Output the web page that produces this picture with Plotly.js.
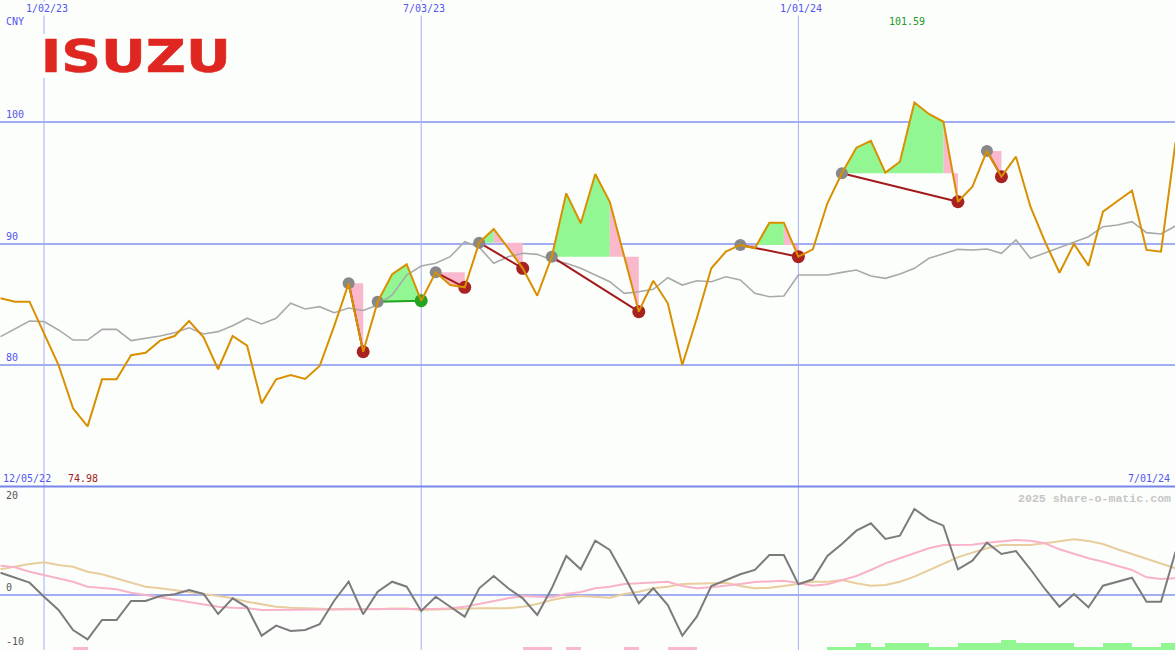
<!DOCTYPE html>
<html>
<head>
<meta charset="utf-8">
<script src="https://cdn.plot.ly/plotly-3.0.1.min.js"></script>
<style>
  html, body { margin: 0; padding: 0; background: #fcfefc; }
  #chart { width: 1175px; height: 650px; }
</style>
</head>
<body>
<div id="chart"></div>
<script>
// ---------- data ----------
const dates = [
  '2022-12-12','2022-12-19','2022-12-26','2023-01-02','2023-01-09','2023-01-16','2023-01-23','2023-01-30','2023-02-06','2023-02-13',
  '2023-02-20','2023-02-27','2023-03-06','2023-03-13','2023-03-20','2023-03-27','2023-04-03','2023-04-10','2023-04-17','2023-04-24',
  '2023-05-01','2023-05-08','2023-05-15','2023-05-22','2023-05-29','2023-06-05','2023-06-12','2023-06-19','2023-06-26','2023-07-03',
  '2023-07-10','2023-07-17','2023-07-24','2023-07-31','2023-08-07','2023-08-14','2023-08-21','2023-08-28','2023-09-04','2023-09-11',
  '2023-09-18','2023-09-25','2023-10-02','2023-10-09','2023-10-16','2023-10-23','2023-10-30','2023-11-06','2023-11-13','2023-11-20',
  '2023-11-27','2023-12-04','2023-12-11','2023-12-18','2023-12-25','2024-01-01','2024-01-08','2024-01-15','2024-01-22','2024-01-29',
  '2024-02-05','2024-02-12','2024-02-19','2024-02-26','2024-03-04','2024-03-11','2024-03-18','2024-03-25','2024-04-01','2024-04-08',
  '2024-04-15','2024-04-22','2024-04-29','2024-05-06','2024-05-13','2024-05-20','2024-05-27','2024-06-03','2024-06-10','2024-06-17',
  '2024-06-24','2024-07-01'
];

const price = [
  85.50, 85.22, 85.22, 82.57, 80.02, 76.46, 74.98, 78.85, 78.85, 80.82,
  81.03, 82.02, 82.40, 83.63, 82.30, 79.67, 82.40, 81.61, 76.87, 78.85,
  79.20, 78.87, 79.94, 83.22, 86.73, 81.11, 85.22, 87.47, 88.29, 85.30,
  87.63, 86.59, 86.40, 90.07, 91.19, 89.61, 87.96, 85.71, 88.92, 94.12,
  91.66, 95.71, 93.43, 88.92, 84.40, 86.94, 85.09, 80.02, 83.86, 87.96,
  89.33, 89.88, 89.61, 91.71, 91.71, 88.92, 89.52, 93.30, 95.77, 97.87,
  98.44, 95.82, 96.72, 101.59, 100.64, 100.00, 93.43, 94.67, 97.60, 95.49,
  97.13, 93.02, 90.15, 87.60, 89.96, 88.18, 92.61, 93.49, 94.34, 89.47,
  89.33, 98.31
];

const movingAvg = [
  82.35, 82.98, 83.63, 83.58, 82.90, 82.07, 82.07, 82.95, 82.95, 82.02,
  82.21, 82.40, 82.67, 83.08, 82.57, 82.76, 83.25, 83.86, 83.39, 83.86,
  85.09, 84.62, 84.81, 84.32, 84.70, 84.50, 84.95, 85.77, 87.41, 88.15,
  88.37, 88.92, 90.15, 89.69, 88.37, 88.92, 89.20, 89.11, 88.64, 88.37,
  87.96, 87.41, 86.86, 85.91, 86.04, 86.24, 87.19, 86.59, 86.94, 86.86,
  87.27, 87.00, 85.91, 85.63, 85.69, 87.41, 87.41, 87.41, 87.63, 87.82,
  87.33, 87.14, 87.50, 87.96, 88.78, 89.14, 89.52, 89.47, 89.55, 89.20,
  90.29, 88.78, 89.24, 89.69, 90.10, 90.56, 91.38, 91.52, 91.79, 90.89,
  90.78, 91.44
];

const oscillator = [
  4.83, 3.75, 2.67, -0.37, -3.25, -7.58, -9.60, -5.42, -5.42, -1.30,
  -1.30, -0.22, 0.15, 1.08, 0.22, -4.12, -0.72, -2.67, -8.82, -6.65,
  -7.80, -7.58, -6.35, -1.24, 2.88, -4.18, 0.72, 2.88, 1.80, -3.47,
  -0.37, -2.54, -4.70, 1.45, 4.12, 1.45, -0.72, -4.33, 1.45, 8.45,
  5.57, 11.77, 9.75, 4.12, -1.80, 1.45, -2.17, -8.82, -4.70, 1.95,
  3.25, 4.49, 5.42, 8.67, 8.67, 2.34, 3.40, 8.45, 11.05, 13.93,
  15.54, 12.13, 12.85, 18.63, 16.40, 15.02, 5.57, 7.43, 11.33, 8.88,
  9.53, 5.57, 1.30, -2.54, 0.22, -2.67, 2.02, 2.88, 3.75, -1.45,
  -1.45, 9.38
];

const oscFast = [
  6.35, 6.00, 5.05, 4.33, 3.62, 2.88, 1.80, 1.45, 1.24, 0.50,
  0.00, -0.50, -1.08, -1.58, -2.02, -2.54, -2.75, -2.88, -3.25, -3.25,
  -3.25, -3.25, -3.25, -3.20, -3.15, -3.10, -3.05, -3.00, -3.00, -3.03,
  -3.03, -2.88, -2.54, -1.95, -1.23, -0.72, -0.22, -0.36, -0.50, 0.22,
  0.65, 1.45, 1.80, 2.38, 2.53, 2.67, 2.88, 1.95, 1.45, 1.66,
  1.95, 2.38, 2.82, 2.88, 3.10, 2.60, 2.02, 2.32, 3.25, 4.12,
  5.42, 6.86, 7.95, 9.03, 10.11, 10.83, 10.90, 10.90, 11.33, 11.55,
  11.92, 11.77, 11.20, 9.90, 8.88, 7.95, 7.21, 6.35, 5.42, 3.83,
  3.47, 3.62
];

const oscSlow = [
  5.57, 6.13, 6.72, 7.09, 6.50, 6.13, 5.05, 4.49, 3.62, 2.67,
  1.80, 1.45, 1.08, 0.72, 0.22, -0.22, -0.72, -1.45, -2.02, -2.54,
  -2.75, -2.88, -3.10, -3.10, -2.97, -3.10, -3.10, -2.93, -2.93, -3.25,
  -3.16, -3.10, -2.88, -2.88, -2.88, -2.88, -2.54, -1.95, -1.08, -0.50,
  -0.22, -0.37, -0.58, 0.22, 0.72, 1.45, 1.80, 2.38, 2.38, 2.53,
  2.67, 1.95, 1.45, 1.58, 1.95, 2.38, 2.88, 2.88, 3.25, 2.53,
  2.02, 2.17, 2.88, 3.97, 5.42, 6.87, 8.17, 9.17, 10.12, 10.83,
  10.83, 10.83, 11.20, 11.70, 12.07, 11.70, 11.05, 9.90, 8.88, 7.80,
  6.87, 5.79
];

const signalLevel = [
  0, 0, 0, 0, 0, -1, 0, 0, 0, 0,
  0, 0, 0, 0, 0, 0, 0, 0, 0, 0,
  0, 0, 0, 0, 0, 0, 0, 0, 0, 0,
  0, 0, 0, 0, 0, 0, -1, -1, 0, -1,
  0, 0, 0, -1, 0, 0, -1, -1, 0, 0,
  0, 0, 0, 0, 0, 0, 0, 1, 1, 2,
  1, 2, 2, 2, 1, 1, 2, 2, 2, 3,
  2, 2, 2, 2, 1, 1, 2, 2, 1, 1,
  2, 0
];

const patternStart = [24, 26, 30, 33, 38, 51, 58, 68];
const patternEnd   = [25, 29, 32, 36, 44, 55, 66, 69];

const dateTicks = ['2023-01-02', '2023-07-03', '2024-01-01'];
const dateTickLabels = ['1/02/23', '7/03/23', '1/01/24'];
const firstDateLabel = '12/05/22';
const lastDateLabel = '7/01/24';
const priceTicks = [80, 90, 100];
const oscTicks = [20, 0, -10];
const currency = 'CNY';
const brand = 'ISUZU';
const watermark = '2025 share-o-matic.com';
const xRange = ['2022-12-11 18:00', '2024-06-30 18:00'];

// ---------- styles ----------
const BG = '#fcfefc';
const GRID = '#a3aef2';
const BLUE_TXT = '#5256ee';
const MONO = 'DejaVu Sans Mono, monospace';
const UP_FILL = '#92f792';
const DOWN_FILL = '#f9b8cc';
const WEEK_MS = 7 * 24 * 3600 * 1000;
const SPLIT = 163 / 650;

const traces = [];

// pattern fills between price and the start level, merged into runs of one colour
for (let p = 0; p < patternStart.length; p++) {
  const s = patternStart[p], e = patternEnd[p];
  const level = price[s];
  let a = s;
  while (a < e) {
    const up = price[a + 1] > level;
    let b = a;
    while (b + 1 < e && (price[b + 2] > level) === up) b++;
    const xs = dates.slice(a, b + 2).concat([dates[b + 1], dates[a]]);
    const ys = price.slice(a, b + 2).concat([level, level]);
    traces.push({
      type: 'scatter', mode: 'lines', xaxis: 'x', yaxis: 'y', x: xs, y: ys,
      fill: 'toself', fillcolor: up ? UP_FILL : DOWN_FILL,
      line: { width: 0, color: 'rgba(0,0,0,0)' }, hoverinfo: 'skip', showlegend: false
    });
    a = b + 1;
  }
}

// moving average
traces.push({ type: 'scatter', mode: 'lines', x: dates, y: movingAvg, xaxis: 'x', yaxis: 'y',
  line: { color: '#a9a9a9', width: 1.6 }, hoverinfo: 'skip', showlegend: false });

// pattern lines and markers
for (let p = 0; p < patternStart.length; p++) {
  const s = patternStart[p], e = patternEnd[p];
  const up = price[e] > price[s];
  traces.push({ type: 'scatter', mode: 'lines', xaxis: 'x', yaxis: 'y',
    x: [dates[s], dates[e]], y: [price[s], price[e]],
    line: { color: up ? '#22a322' : '#a21a1a', width: 2 }, hoverinfo: 'skip', showlegend: false });
}
traces.push({ type: 'scatter', mode: 'markers', xaxis: 'x', yaxis: 'y',
  x: patternStart.map(i => dates[i]), y: patternStart.map(i => price[i]),
  marker: { size: 12, color: '#888888', line: { width: 0 } }, hoverinfo: 'skip', showlegend: false });
traces.push({ type: 'scatter', mode: 'markers', xaxis: 'x', yaxis: 'y',
  x: patternEnd.map(i => dates[i]), y: patternEnd.map(i => price[i]),
  marker: { size: 13, line: { width: 0 },
    color: patternEnd.map((e, p) => price[e] > price[patternStart[p]] ? '#22a322' : '#a82222') },
  hoverinfo: 'skip', showlegend: false });

// price line
traces.push({ type: 'scatter', mode: 'lines', x: dates, y: price, xaxis: 'x', yaxis: 'y',
  line: { color: '#d99000', width: 2 }, hoverinfo: 'skip', showlegend: false });

// lower panel: signal bars
traces.push({ type: 'bar', xaxis: 'x2', yaxis: 'y3', x: dates, y: signalLevel.map(v => v < 0 ? -v : null),
  width: WEEK_MS, offset: 0, marker: { color: DOWN_FILL, line: { width: 0 } }, hoverinfo: 'skip', showlegend: false });
traces.push({ type: 'bar', xaxis: 'x2', yaxis: 'y3', x: dates, y: signalLevel.map(v => v > 0 ? v : null),
  width: WEEK_MS, offset: 0, marker: { color: UP_FILL, line: { width: 0 } }, hoverinfo: 'skip', showlegend: false });

// lower panel: lines
traces.push({ type: 'scatter', mode: 'lines', x: dates, y: oscSlow, xaxis: 'x2', yaxis: 'y2',
  line: { color: '#e8cd9e', width: 2 }, hoverinfo: 'skip', showlegend: false });
traces.push({ type: 'scatter', mode: 'lines', x: dates, y: oscFast, xaxis: 'x2', yaxis: 'y2',
  line: { color: '#f8b3c8', width: 2 }, hoverinfo: 'skip', showlegend: false });
traces.push({ type: 'scatter', mode: 'lines', x: dates, y: oscillator, xaxis: 'x2', yaxis: 'y2',
  line: { color: '#7b7b7b', width: 2 }, hoverinfo: 'skip', showlegend: false });

// ---------- annotations ----------
const ann = [];
dateTicks.forEach((d, i) => {
  ann.push({ xref: 'x', x: d, xanchor: 'center', xshift: 3, yref: 'paper', y: 1, yanchor: 'top', yshift: -1,
    text: dateTickLabels[i], showarrow: false, bgcolor: BG, borderpad: 1, font: { family: MONO, size: 10, color: BLUE_TXT } });
});
ann.push({ xref: 'paper', x: 0, xanchor: 'left', xshift: 1, yref: 'paper', y: SPLIT, yanchor: 'bottom', yshift: 1,
  text: firstDateLabel, showarrow: false, font: { family: MONO, size: 10, color: BLUE_TXT } });
ann.push({ xref: 'paper', x: 1, xanchor: 'right', xshift: -3, yref: 'paper', y: SPLIT, yanchor: 'bottom', yshift: 1,
  text: lastDateLabel, showarrow: false, font: { family: MONO, size: 10, color: BLUE_TXT } });
ann.push({ xref: 'paper', x: 0, xanchor: 'left', xshift: 4, yref: 'paper', y: 1, yanchor: 'top', yshift: -14,
  text: currency, showarrow: false, font: { family: MONO, size: 10, color: BLUE_TXT } });
priceTicks.forEach(v => {
  ann.push({ xref: 'paper', x: 0, xanchor: 'left', xshift: 4, yref: 'y', y: v, yanchor: 'bottom', yshift: 0,
    text: String(v), showarrow: false, font: { family: MONO, size: 10, color: BLUE_TXT } });
});
oscTicks.forEach(v => {
  ann.push({ xref: 'paper', x: 0, xanchor: 'left', xshift: 4, yref: 'y2', y: v, yanchor: v < 0 ? 'middle' : 'bottom', yshift: 0,
    text: String(v), showarrow: false, font: { family: MONO, size: 10, color: '#555555' } });
});
const maxVal = Math.max(...price), minVal = Math.min(...price);
const maxIdx = price.indexOf(maxVal), minIdx = price.indexOf(minVal);
ann.push({ xref: 'x', x: dates[maxIdx], xanchor: 'center', xshift: -7, yref: 'paper', y: 1, yanchor: 'top', yshift: -14,
  text: maxVal.toFixed(2), showarrow: false, font: { family: MONO, size: 10, color: '#229922' } });
ann.push({ xref: 'x', x: dates[minIdx], xanchor: 'center', xshift: -5, yref: 'paper', y: SPLIT, yanchor: 'bottom', yshift: 1,
  text: minVal.toFixed(2), showarrow: false, font: { family: MONO, size: 10, color: '#a02020' } });
ann.push({ xref: 'paper', x: 1, xanchor: 'right', xshift: -2, yref: 'paper', y: SPLIT, yanchor: 'top', yshift: -3,
  text: watermark, showarrow: false, font: { family: 'Liberation Mono, monospace', size: 11.6, color: '#c6c6c6', weight: 'bold' } });
ann.push({ xref: 'paper', x: 135 / 1175, xanchor: 'center', yref: 'paper', y: 1 - 56.5 / 650, yanchor: 'middle',
  text: brand, showarrow: false, font: { family: 'DejaVu Sans', size: 44, color: '#df2620', weight: 'bold' } });

// ---------- layout ----------
const xCommon = { type: 'date', range: xRange, showticklabels: false, ticks: '',
  showgrid: false, zeroline: false, showline: false, fixedrange: true };

const shapes = [];
dateTicks.forEach(d => {
  shapes.push({ type: 'line', layer: 'below', xref: 'x', yref: 'paper', x0: d, x1: d, y0: 0, y1: 1,
    line: { color: GRID, width: 1 } });
});
shapes.push({ type: 'line', xref: 'paper', yref: 'paper', x0: 0, x1: 1, y0: SPLIT + 0.5 / 650, y1: SPLIT + 0.5 / 650,
  line: { color: '#7886ea', width: 2 } });
shapes.push({ type: 'rect', layer: 'above', xref: 'paper', yref: 'paper',
  x0: 36 / 1175, x1: 234 / 1175, y0: 1 - 78 / 650, y1: 1 - 34 / 650, fillcolor: BG, line: { width: 0 } });

const layout = {
  width: 1175, height: 650, margin: { l: 0, r: 0, t: 0, b: 0, pad: 0 },
  paper_bgcolor: BG, plot_bgcolor: BG, showlegend: false, barmode: 'overlay', bargap: 0,
  xaxis: Object.assign({}, xCommon, { anchor: 'y', domain: [0, 1] }),
  xaxis2: Object.assign({}, xCommon, { anchor: 'y2', domain: [0, 1] }),
  yaxis: { domain: [SPLIT, 1], range: [70, 110], anchor: 'x', tickmode: 'array', tickvals: priceTicks,
    showticklabels: false, ticks: '', showgrid: true, gridcolor: GRID, gridwidth: 2, zeroline: false, showline: false },
  yaxis2: { domain: [0, SPLIT], range: [-11.92, 23.40], anchor: 'x2', tickmode: 'array', tickvals: [0],
    showticklabels: false, ticks: '', showgrid: true, gridcolor: GRID, gridwidth: 2, zeroline: false, showline: false },
  yaxis3: { overlaying: 'y2', anchor: 'x2', range: [0, 49], visible: false, showgrid: false, zeroline: false },
  shapes: shapes, annotations: ann
};

Plotly.newPlot('chart', traces, layout, { displayModeBar: false, staticPlot: true }).then(gd => {
  gd.querySelectorAll('.annotation-text').forEach(t => {
    if (t.textContent === brand) {
      t.setAttribute('textLength', '190');
      t.setAttribute('lengthAdjust', 'spacingAndGlyphs');
      t.style.stroke = '#df2620';
      t.style.strokeWidth = '0.6px';
    }
  });
});
</script>
</body>
</html>
